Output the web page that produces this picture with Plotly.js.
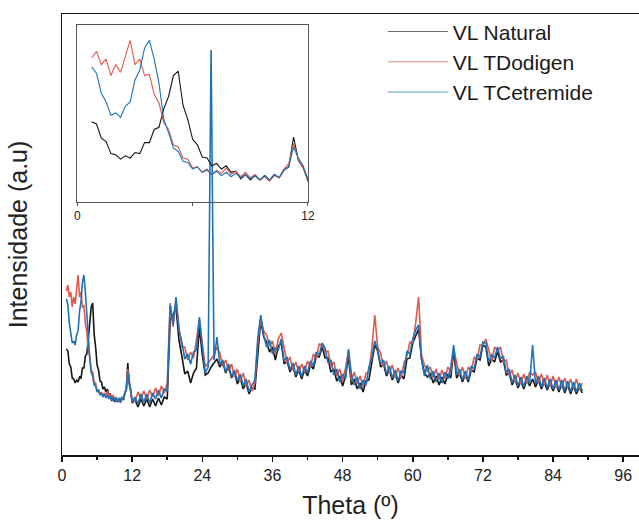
<!DOCTYPE html>
<html><head><meta charset="utf-8">
<script src="https://cdn.plot.ly/plotly-3.0.1.min.js"></script>
<style>html,body{margin:0;padding:0;background:#fff}#c{width:639px;height:524px}</style>
</head><body><div id="c"></div>
<script>
const theta = [0.75,1.0,1.25,1.5,1.75,2.0,2.25,2.5,2.75,3.0,3.25,3.5,3.75,4.0,4.25,4.5,4.75,5.0,5.25,5.5,5.75,6.0,6.25,6.5,6.75,7.0,7.25,7.5,7.75,8.0,8.25,8.5,8.75,9.0,9.25,9.5,9.75,10.0,10.25,10.5,10.75,11.0,11.25,11.5,11.75,12.0,
12.5,13,13.5,14,14.5,15,15.5,16,16.5,17,17.5,18,18.5,19,19.5,20,20.5,21,21.5,22,22.5,23,23.5,24,24.5,25,25.5,26,26.5,27,27.5,28,28.5,29,29.5,30,30.5,31,31.5,32,32.5,33,33.5,34,34.5,35,35.5,36,36.5,37,37.5,38,38.5,39,39.5,40,40.5,41,41.5,42,42.5,43,43.5,44,44.5,45,45.5,46,46.5,47,47.5,48,48.5,49,49.5,50,50.5,51,51.5,52,52.5,53,53.5,54,54.5,55,55.5,56,56.5,57,57.5,58,58.5,59,59.5,60,60.5,61,61.5,62,62.5,63,63.5,64,64.5,65,65.5,66,66.5,67,67.5,68,68.5,69,69.5,70,70.5,71,71.5,72,72.5,73,73.5,74,74.5,75,75.5,76,76.5,77,77.5,78,78.5,79,79.5,80,80.5,81,81.5,82,82.5,83,83.5,84,84.5,85,85.5,86,86.5,87,87.5,88,88.5,89];

const vlNatural = [106,104,91,88,77,76,72,75,73,78,77,87,87,99,101,118,129,148,152,121,108,90,85,74,73,66,68,63,66,60,61,54,58,53,57,53,57,53,58,55,62,65,92,71,64,52,
55,48,56,49,56,48,56,49,57,50,58,56,135,140,148,115,99,81,84,72,82,87,128,100,80,82,88,92,96,88,93,82,89,77,83,71,77,66,72,61,67,66,105,135,118,113,103,108,95,109,112,91,94,83,89,78,85,76,85,79,90,86,99,98,108,97,97,83,86,74,79,69,79,98,70,76,66,72,63,74,75,95,110,104,88,91,79,85,75,81,72,80,76,96,97,112,120,126,96,82,78,81,72,79,70,78,71,81,77,104,77,82,73,80,73,85,83,97,95,110,108,89,96,93,104,93,95,80,82,70,76,67,74,66,75,69,76,68,75,66,73,65,72,64,71,63,71,62,70,61,69,61,68,62];

const vlTDodigen = [164,170,158,163,148,158,151,166,180,158,163,148,149,131,123,105,99,85,83,73,72,64,65,60,63,58,62,59,64,58,61,56,60,55,58,53,56,52,57,55,63,68,86,72,64,54,
54,63,56,64,56,65,58,67,59,69,62,72,152,128,155,128,108,108,95,103,97,115,136,112,88,92,96,100,108,102,89,95,84,91,78,86,74,82,69,75,64,72,112,136,124,120,109,114,101,116,122,105,92,98,85,93,83,91,83,94,88,101,97,111,110,103,104,89,93,79,86,74,87,104,75,83,71,79,68,82,83,107,140,108,102,88,94,82,90,78,87,77,92,99,113,112,132,158,100,90,84,88,77,86,75,85,76,88,83,106,92,79,88,77,88,83,98,95,110,110,116,104,94,108,104,108,93,95,79,85,73,82,71,81,72,83,80,83,72,81,70,80,69,79,68,78,68,77,67,76,66,76,65,72];

const vlTCetremide = [156,150,132,124,112,114,110,120,124,144,153,173,180,163,141,108,96,82,79,70,69,63,65,60,62,58,61,57,60,56,59,55,58,54,57,53,57,53,58,55,62,65,83,73,66,53,
58,51,61,53,61,52,62,56,65,57,66,64,150,130,158,125,113,96,101,91,103,105,138,108,82,88,405,95,118,90,95,83,91,78,85,74,81,69,76,63,70,75,118,140,120,108,115,101,107,105,116,94,98,85,92,80,89,78,89,82,94,89,103,100,112,107,92,95,80,86,73,81,76,106,81,70,78,66,75,70,88,97,114,105,91,95,81,89,77,85,74,84,82,104,101,116,125,130,95,79,90,76,84,73,82,72,83,76,88,110,80,86,75,84,75,89,86,101,98,113,112,93,100,97,108,96,99,82,86,72,80,69,78,68,79,72,110,71,79,68,77,67,76,66,75,65,75,64,74,63,73,63,72,64];

const seriesNames = ['VL Natural','VL TDodigen','VL TCetremide'];
const seriesColors = ['#151515','#dd5a4c','#1f72b6'];
const legendColors = ['#6a6a6a','#d98a80','#5a9fc4'];
const seriesData = [vlNatural, vlTDodigen, vlTCetremide];
const mainTicks = [0,12,24,36,48,60,72,84,96];
const insetTicks = [0,6,12];
const insetTickText = ['0','','12'];

const traces = [];
seriesData.forEach((d,i)=>{
  traces.push({x:theta,y:d,type:'scatter',mode:'lines',name:seriesNames[i],showlegend:false,
    line:{color:seriesColors[i],width:1.6},xaxis:'x',yaxis:'y'});
});
seriesData.forEach((d,i)=>{
  traces.push({x:theta,y:d,type:'scatter',mode:'lines',showlegend:false,
    line:{color:seriesColors[i],width:1.1},xaxis:'x2',yaxis:'y2'});
});
seriesNames.forEach((n,i)=>{
  traces.push({x:[null],y:[null],type:'scatter',mode:'lines',name:n,showlegend:true,
    line:{color:legendColors[i],width:1},xaxis:'x',yaxis:'y'});
});

const F = 'Liberation Sans, Arial, sans-serif';
const layout = {
  width:639,height:524,
  margin:{l:62,r:0,t:14,b:69},
  paper_bgcolor:'#fff',plot_bgcolor:'rgba(0,0,0,0)',
  font:{family:F,color:'#222'},
  showlegend:true,
  legend:{x:0.556,y:1.006,xanchor:'left',yanchor:'top',bgcolor:'rgba(0,0,0,0)',
    font:{family:F,size:21,color:'#1a1a1a'},tracegroupgap:0,itemwidth:60},
  xaxis:{domain:[0,1],range:[0,98.7],showline:true,linecolor:'#111',linewidth:1.5,mirror:true,
    showgrid:false,zeroline:false,tickmode:'array',tickvals:mainTicks,ticks:'outside',ticklen:5,
    tickcolor:'#111',tickwidth:1.5,tickfont:{family:F,size:16,color:'#222'},
    minor:{dtick:6,tick0:0,ticks:'outside',ticklen:3,tickcolor:'#111',showgrid:false},
    title:{text:'Theta (º)',font:{family:F,size:25,color:'#222'},standoff:14}},
  yaxis:{domain:[0,1],range:[0,441],showline:true,linecolor:'#111',linewidth:1.5,
    showgrid:false,zeroline:false,showticklabels:false,ticks:'',
    title:{text:'Intensidade (a.u)',font:{family:F,size:25,color:'#222'},standoff:26}},
  xaxis2:{domain:[0.0265,0.4263],anchor:'y2',range:[0,12],showline:true,linecolor:'#555',linewidth:1,
    mirror:true,showgrid:false,zeroline:false,tickmode:'array',tickvals:insetTicks,ticktext:insetTickText,
    ticks:'outside',ticklen:3,tickcolor:'#555',tickfont:{family:F,size:12,color:'#222'}},
  yaxis2:{domain:[0.5737,0.975],anchor:'x2',range:[33,194],showline:true,linecolor:'#555',linewidth:1,
    mirror:true,showgrid:false,zeroline:false,showticklabels:false,ticks:''}
};
Plotly.newPlot('c',traces,layout,{staticPlot:true,displayModeBar:false});
</script></body></html>
